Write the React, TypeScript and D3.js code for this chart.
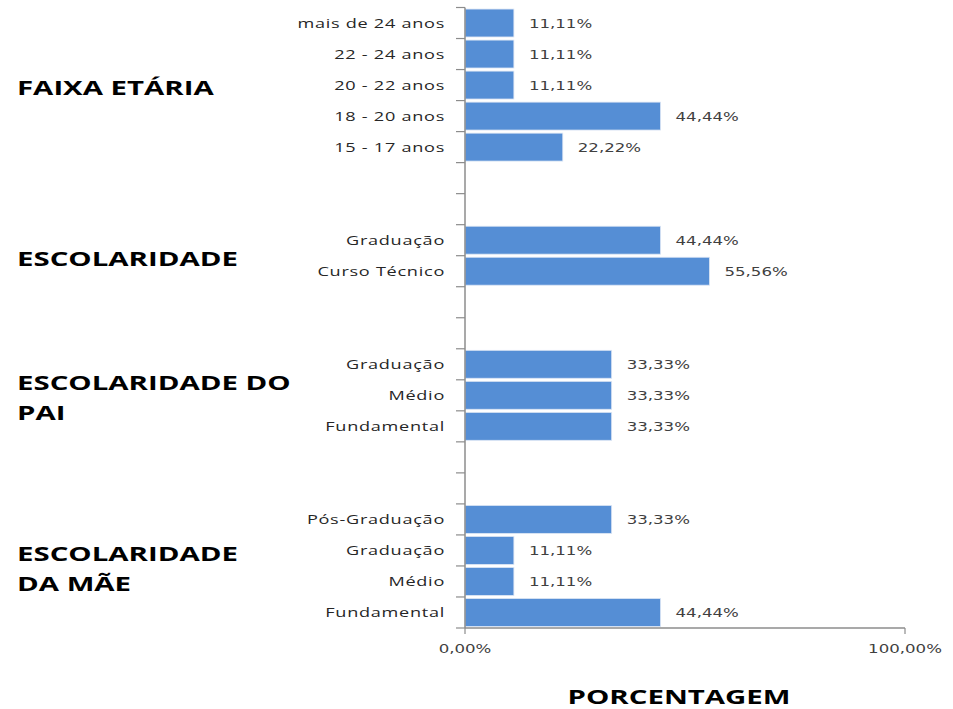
import * as d3 from "d3";

// rows top to bottom, empty strings are gap rows between groups
const categories = [
  "mais de 24 anos", "22 - 24 anos", "20 - 22 anos", "18 - 20 anos", "15 - 17 anos",
  "", "",
  "Graduação", "Curso Técnico",
  "", "",
  "Graduação", "Médio", "Fundamental",
  "", "",
  "Pós-Graduação", "Graduação", "Médio", "Fundamental",
];
const values: (number | null)[] = [
  11.11, 11.11, 11.11, 44.44, 22.22,
  null, null,
  44.44, 55.56,
  null, null,
  33.33, 33.33, 33.33,
  null, null,
  33.33, 11.11, 11.11, 44.44,
];
const groupTitles = [
  { lines: ["FAIXA ETÁRIA"], first: 0, last: 4 },
  { lines: ["ESCOLARIDADE"], first: 7, last: 8 },
  { lines: ["ESCOLARIDADE DO", "PAI"], first: 11, last: 13 },
  { lines: ["ESCOLARIDADE", "DA MÃE"], first: 16, last: 19 },
];
const xTicks = [0, 100];
const axisTitle = "PORCENTAGEM";

const W = 953;
const H = 709;
const SX = 1.33; // the original is stretched horizontally
const SX_CAT = 1.45;
const SX_TITLE = 1.47;
const fmt = (v: number) => d3.format(".2f")(v).replace(".", ",") + "%";

export default function App() {
  const x = d3.scaleLinear().domain([0, 100]).range([465, 905]);
  const y = d3
    .scaleBand<number>()
    .domain(categories.map((_, i) => i))
    .range([7.5, 628])
    .paddingInner(0.1)
    .paddingOuter(0.05);
  const y0 = 7.5;
  const boundaries = d3.range(categories.length + 1).map((i) => y0 + i * (620.5 / categories.length));

  const catFont = "'Open Sans', sans-serif";
  const valFont = "'DejaVu Sans', Verdana, sans-serif";

  return (
    <svg width={W} height={H} style={{ position: "absolute", left: 0, top: 0, background: "#fff" }}>
      {/* bars */}
      {values.map((v, i) =>
        v == null ? null : (
          <rect
            key={"b" + i}
            x={x(0)}
            y={y(i)}
            width={x(v) - x(0)}
            height={y.bandwidth()}
            fill="#558ED5"
            stroke="#dbe5f4"
            strokeWidth={0.8}
          />
        )
      )}
      {/* value labels */}
      {values.map((v, i) =>
        v == null ? null : (
          <text
            key={"v" + i}
            transform={`translate(${x(v) + 15},${(y(i) as number) + y.bandwidth() / 2 + 4.5}) scale(${SX},1)`}
            fontFamily={valFont}
            fontSize={12.5}
            fill="#404040"
          >
            {fmt(v)}
          </text>
        )
      )}
      {/* y axis */}
      <line x1={x(0)} x2={x(0)} y1={y0} y2={628} stroke="#8c8c8c" strokeWidth={1.5} />
      {boundaries.map((b, i) => (
        <line key={"t" + i} x1={456} x2={x(0)} y1={b} y2={b} stroke="#8c8c8c" strokeWidth={1.2} />
      ))}
      {categories.map((c, i) =>
        c === "" ? null : (
          <text
            key={"c" + i}
            transform={`translate(445,${(y(i) as number) + y.bandwidth() / 2 + 4.5}) scale(${SX_CAT},1)`}
            textAnchor="end"
            fontFamily={catFont}
            fontSize={12.5}
            letterSpacing={0.5}
            fill="#262626"
          >
            {c}
          </text>
        )
      )}
      {/* x axis */}
      <line x1={x(0)} x2={x(100)} y1={628} y2={628} stroke="#8c8c8c" strokeWidth={1.5} />
      {xTicks.map((t) => (
        <g key={"x" + t}>
          <line x1={x(t)} x2={x(t)} y1={628} y2={634} stroke="#8c8c8c" strokeWidth={1.2} />
          <text
            transform={`translate(${x(t)},653) scale(${SX},1)`}
            textAnchor="middle"
            fontFamily={valFont}
            fontSize={12.5}
            fill="#404040"
          >
            {fmt(t)}
          </text>
        </g>
      ))}
      <text
        transform={`translate(679,704) scale(${SX_TITLE},1)`}
        textAnchor="middle"
        fontFamily={catFont}
        fontWeight="bold"
        fontSize={20}
        fill="#000"
      >
        {axisTitle}
      </text>
      {/* group titles */}
      {groupTitles.map((g, gi) => {
        const mid = ((y(g.first) as number) + (y(g.last) as number) + y.bandwidth()) / 2;
        const lh = 30;
        const top = mid - ((g.lines.length - 1) * lh) / 2;
        return g.lines.map((ln, li) => (
          <text
            key={"g" + gi + li}
            transform={`translate(17,${top + li * lh + 10}) scale(${SX_TITLE},1)`}
            fontFamily={catFont}
            fontWeight="bold"
            fontSize={20}
            fill="#000"
          >
            {ln}
          </text>
        ));
      })}
    </svg>
  );
}
